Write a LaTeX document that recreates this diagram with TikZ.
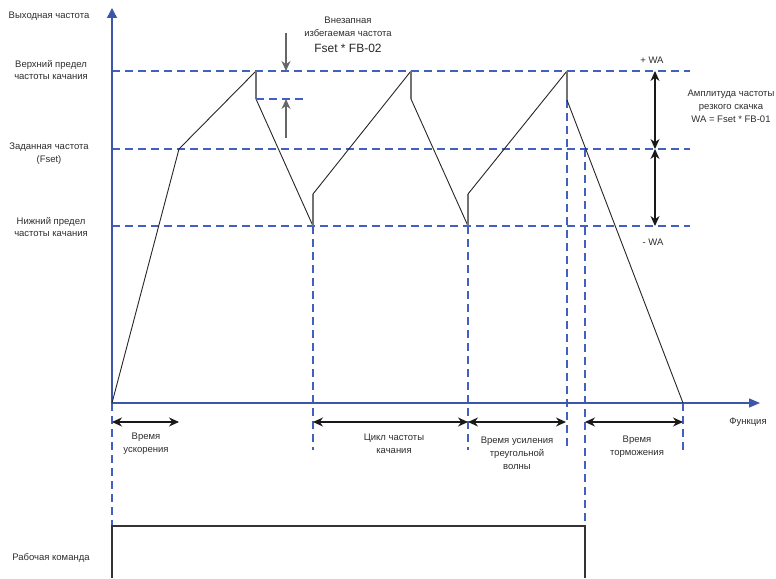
\documentclass[tikz,border=0pt]{standalone}
\usepackage{fontspec}
\setmainfont{Liberation Sans}
\usetikzlibrary{arrows.meta}
\definecolor{axisblue}{RGB}{60,86,170}
\definecolor{guideblue}{RGB}{66,96,192}
\definecolor{labelgray}{RGB}{45,45,45}

\begin{document}
\begin{tikzpicture}[x=1pt, y=-1pt,
  axis/.style={axisblue, line width=1.4pt},
  guide/.style={guideblue, line width=1.3pt, dash pattern=on 8pt off 5pt},
  wave/.style={black!85, line width=0.9pt},
  jump/.style={black!55, line width=1.2pt},
  marker/.style={-{Stealth[length=10pt,width=9pt]}, black!60, line width=1.2pt},
  span/.style={{Stealth[length=10pt,width=9pt]}-{Stealth[length=10pt,width=9pt]}, black!90, line width=1.1pt},
  lbl/.style={font=\fontsize{9.5}{12.8}\selectfont, text=labelgray, align=center, inner sep=0pt}]

\useasboundingbox (0,0) rectangle (776,578);

% Guide levels
\coordinate (upL) at (112,71);   \coordinate (upR) at (690,71);
\coordinate (setL) at (112,149); \coordinate (setR) at (690,149);
\coordinate (loL) at (112,226);  \coordinate (loR) at (690,226);
\draw[guide] (upL) -- (upR);
\draw[guide] (setL) -- (setR);
\draw[guide] (loL) -- (loR);

% Waveform points
\coordinate (o) at (112,403);
\coordinate (acc) at (179,149);
\coordinate (p1) at (256,71);   \coordinate (q1) at (256,99);
\coordinate (v1) at (313,226);  \coordinate (r1) at (313,194);
\coordinate (p2) at (411,71);   \coordinate (q2) at (411,99);
\coordinate (v2) at (468,226);  \coordinate (r2) at (468,194);
\coordinate (p3) at (567,71);   \coordinate (q3) at (567,100);
\coordinate (stop) at (683,403);

% Vertical guides
\draw[guide] (o) -- (112,526);
\draw[guide] (v1) -- (313,450);
\draw[guide] (v2) -- (468,450);
\draw[guide] (q3) -- (567,450);
\draw[guide] (585,149) -- (585,526);
\draw[guide, line width=2pt] (stop) -- (683,450);

% Axes
\draw[axis, -{Triangle[length=10pt,width=10pt]}] (o) -- (112,8);
\draw[axis, -{Triangle[length=11pt,width=9pt]}] (o) -- (760,403);

% Output frequency
\draw[wave] (o) -- (acc) -- (p1);
\draw[jump] (p1) -- (q1);
\draw[wave] (q1) -- (v1);
\draw[jump] (v1) -- (r1);
\draw[wave] (r1) -- (p2);
\draw[jump] (p2) -- (q2);
\draw[wave] (q2) -- (v2);
\draw[jump] (v2) -- (r2);
\draw[wave] (r2) -- (p3);
\draw[jump] (p3) -- (q3);
\draw[wave] (q3) -- (stop);

% Jump frequency marker
\draw[guide] (q1) -- (304,99);
\draw[marker] (286,33) -- (286,71);
\draw[marker] (286,138) -- (286,99);

% Amplitude
\draw[span] (655,71) -- (655,149);
\draw[span] (655,149) -- (655,226);

% Time spans
\draw[span] (112,422) -- (179,422);
\draw[span] (313,422) -- (468,422);
\draw[span] (468,422) -- (566,422);
\draw[span] (585,422) -- (683,422);

% Run command
\draw[black!80, line width=1.1pt] (112,578) -- (112,526) -- (585,526) -- (585,578);

% Labels
\node[lbl] (yname) at (49,16) {Выходная частота};
\node[lbl] (upname) at (51,70) {Верхний предел\\частоты качания};
\node[lbl] (setname) at (49,154) {Заданная частота\\(Fset)};
\node[lbl] (loname) at (51,227) {Нижний предел\\частоты качания};
\node[lbl] (cmdname) at (51,558) {Рабочая команда};
\node[lbl] (jumpname) at (348,27) {Внезапная\\избегаемая частота};
\node[lbl, font=\fontsize{12}{14}\selectfont, text=black!85] (jumpval) at (348,48) {Fset * FB-02};
\node[lbl] (plus) at (652,60) {+ WA};
\node[lbl] (minus) at (653,242) {- WA};
\node[lbl] (ampname) at (731,106) {Амплитуда частоты\\резкого скачка\\WA = Fset * FB-01};
\node[lbl] (accname) at (146,444) {Время\\ускорения};
\node[lbl] (cycname) at (394,444) {Цикл частоты\\качания};
\node[lbl] (trname) at (517,453) {Время усиления\\треугольной\\волны};
\node[lbl] (decname) at (637,447) {Время\\торможения};
\node[lbl] (xname) at (748,422) {Функция};

\end{tikzpicture}
\end{document}
